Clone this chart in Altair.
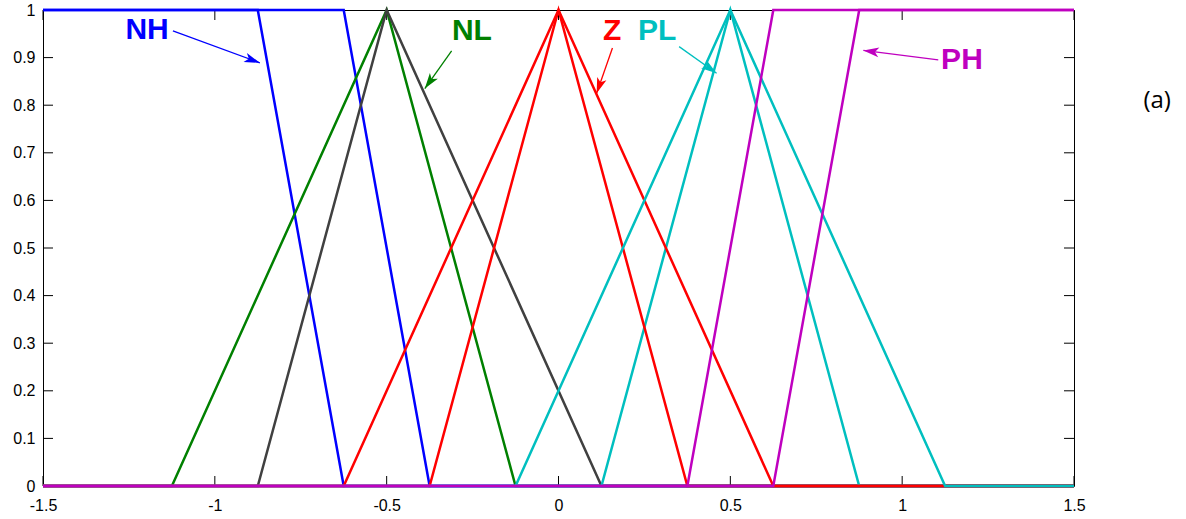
import math
import altair as alt
import pandas as pd

# ---- membership functions (breakpoints) ----
NH_LOWER_X = [-1.5, -0.875, -0.625, 1.5]
NH_LOWER_Y = [1, 1, 0, 0]
NH_UPPER_X = [-1.5, -0.625, -0.375, 1.5]
NH_UPPER_Y = [1, 1, 0, 0]
NL_GREEN_X = [-1.5, -1.125, -0.5, -0.125, 1.5]
NL_GREEN_Y = [0, 0, 1, 0, 0]
NL_GRAY_X = [-1.5, -0.875, -0.5, 0.125, 1.5]
NL_GRAY_Y = [0, 0, 1, 0, 0]
PL_NARROW_X = [-1.5, 0.125, 0.5, 0.875, 1.5]
PL_NARROW_Y = [0, 0, 1, 0, 0]
Z_WIDE_X = [-1.5, -0.625, 0.0, 0.625, 1.5]
Z_WIDE_Y = [0, 0, 1, 0, 0]
Z_NARROW_X = [-1.5, -0.375, 0.0, 0.375, 1.5]
Z_NARROW_Y = [0, 0, 1, 0, 0]
PL_WIDE_X = [-1.5, -0.125, 0.5, 1.125, 1.5]
PL_WIDE_Y = [0, 0, 1, 0, 0]
PH_UPPER_X = [-1.5, 0.375, 0.625, 1.5]
PH_UPPER_Y = [0, 0, 1, 1]
PH_LOWER_X = [-1.5, 0.625, 0.875, 1.5]
PH_LOWER_Y = [0, 0, 1, 1]

SERIES = [
    ("NH lower", NH_LOWER_X, NH_LOWER_Y, "#0000ff"),
    ("NH upper", NH_UPPER_X, NH_UPPER_Y, "#0000ff"),
    ("NL green", NL_GREEN_X, NL_GREEN_Y, "#008000"),
    ("NL gray", NL_GRAY_X, NL_GRAY_Y, "#404040"),
    ("PL narrow", PL_NARROW_X, PL_NARROW_Y, "#00bfbf"),
    ("Z wide", Z_WIDE_X, Z_WIDE_Y, "#ff0000"),
    ("Z narrow", Z_NARROW_X, Z_NARROW_Y, "#ff0000"),
    ("PL wide", PL_WIDE_X, PL_WIDE_Y, "#00bfbf"),
    ("PH upper", PH_UPPER_X, PH_UPPER_Y, "#bf00bf"),
    ("PH lower", PH_LOWER_X, PH_LOWER_Y, "#bf00bf"),
]

# ---- annotations ----
LABELS = ["NH", "NL", "Z", "PL", "PH"]
LABEL_X = [-1.197, -0.252, 0.156, 0.287, 1.174]
LABEL_Y = [0.958, 0.956, 0.956, 0.956, 0.895]
ARROW_X0 = [-1.122, -0.311, 0.157, 0.351, 1.105]
ARROW_Y0 = [0.956, 0.914, 0.920, 0.923, 0.895]
ARROW_X1 = [-0.869, -0.389, 0.111, 0.460, 0.887]
ARROW_Y1 = [0.889, 0.835, 0.825, 0.867, 0.915]
LABEL_COLORS = ["#0000ff", "#008000", "#ff0000", "#00bfbf", "#bf00bf"]

PANEL_LABEL = "(a)"
PANEL_X = [1.742]
PANEL_Y = [0.809]

X_TICKS = [-1.5, -1.0, -0.5, 0.0, 0.5, 1.0, 1.5]
Y_TICKS = [0, 0.1, 0.2, 0.3, 0.4, 0.5, 0.6, 0.7, 0.8, 0.9, 1]

W, H = 1031, 476

xs = alt.Scale(domain=[-1.5, 1.5], nice=False, zero=False)
ys = alt.Scale(domain=[0, 1], nice=False, zero=False)

X_AXIS = alt.Axis(values=X_TICKS, labelExpr="'' + datum.value", ticks=False, tickSize=0,
                  domain=False, grid=False, labelPadding=11, labelFlush=False, title=None)
Y_AXIS = alt.Axis(values=Y_TICKS, labelExpr="'' + datum.value", ticks=False, tickSize=0,
                  domain=False, grid=False, labelPadding=8, labelFlush=False, title=None)


def X(field):
    return alt.X(field, scale=xs, axis=X_AXIS)


def Y(field):
    return alt.Y(field, scale=ys, axis=Y_AXIS)


layers = []

# inward tick marks
xt = pd.DataFrame({"v": X_TICKS})
yt = pd.DataFrame({"v": Y_TICKS})
tick_style = dict(color="#000000", strokeWidth=1)
layers.append(alt.Chart(xt).mark_rule(**tick_style).encode(
    x=X("v:Q"), y=alt.value(H), y2=alt.value(H - 10)))
layers.append(alt.Chart(xt).mark_rule(**tick_style).encode(
    x=X("v:Q"), y=alt.value(0), y2=alt.value(10)))
layers.append(alt.Chart(yt).mark_rule(**tick_style).encode(
    y=Y("v:Q"), x=alt.value(0), x2=alt.value(10)))
layers.append(alt.Chart(yt).mark_rule(**tick_style).encode(
    y=Y("v:Q"), x=alt.value(W), x2=alt.value(W - 10)))

# membership function lines, in drawing order
for name, xv, yv, col in SERIES:
    df = pd.DataFrame({"x": xv, "y": yv, "i": list(range(len(xv)))})
    layers.append(alt.Chart(df).mark_line(color=col, strokeWidth=2.5).encode(
        x=X("x:Q"), y=Y("y:Q"), order="i:Q"))

# arrows
angles = []
for x0, y0, x1, y1 in zip(ARROW_X0, ARROW_Y0, ARROW_X1, ARROW_Y1):
    dxs = (x1 - x0) * W / 3.0
    dys = -(y1 - y0) * H
    angles.append(math.degrees(math.atan2(dxs, -dys)) % 360)

arr = pd.DataFrame({"x0": ARROW_X0, "y0": ARROW_Y0, "x1": ARROW_X1, "y1": ARROW_Y1,
                    "c": LABEL_COLORS, "a": angles})
layers.append(alt.Chart(arr).mark_rule(strokeWidth=1.3).encode(
    x=X("x0:Q"), y=Y("y0:Q"), x2="x1:Q", y2="y1:Q", color=alt.Color("c:N", scale=None)))
layers.append(alt.Chart(arr).mark_point(
    shape="M0,0L-0.5,1.6L0,1.2L0.5,1.6Z", filled=True, opacity=1, size=380, strokeWidth=0).encode(
    x=X("x1:Q"), y=Y("y1:Q"),
    color=alt.Color("c:N", scale=None), angle=alt.Angle("a:Q", scale=None)))

# labels
lab = pd.DataFrame({"t": LABELS, "x": LABEL_X, "y": LABEL_Y, "c": LABEL_COLORS})
layers.append(alt.Chart(lab).mark_text(
    font="Liberation Sans", fontWeight="bold", fontSize=30, align="center", baseline="middle").encode(
    x=X("x:Q"), y=Y("y:Q"), text="t:N", color=alt.Color("c:N", scale=None)))

pan = pd.DataFrame({"t": [PANEL_LABEL], "x": PANEL_X, "y": PANEL_Y})
layers.append(alt.Chart(pan).mark_text(
    font="Open Sans", fontSize=24, align="center", baseline="middle", color="#000000").encode(
    x=X("x:Q"), y=Y("y:Q"), text="t:N"))

chart = alt.layer(*layers).properties(
    width=W, height=H,
    padding={"left": 43, "top": 10, "right": 112, "bottom": 33},
    autosize=alt.AutoSizeParams(type="none"),
    background="#ffffff",
).configure_view(
    stroke="#000000", strokeWidth=1
).configure_axis(
    labelFont="Liberation Sans", labelFontSize=16, labelColor="#000000"
)

chart.save("out.html", embed_options={"renderer": "svg", "actions": False})
